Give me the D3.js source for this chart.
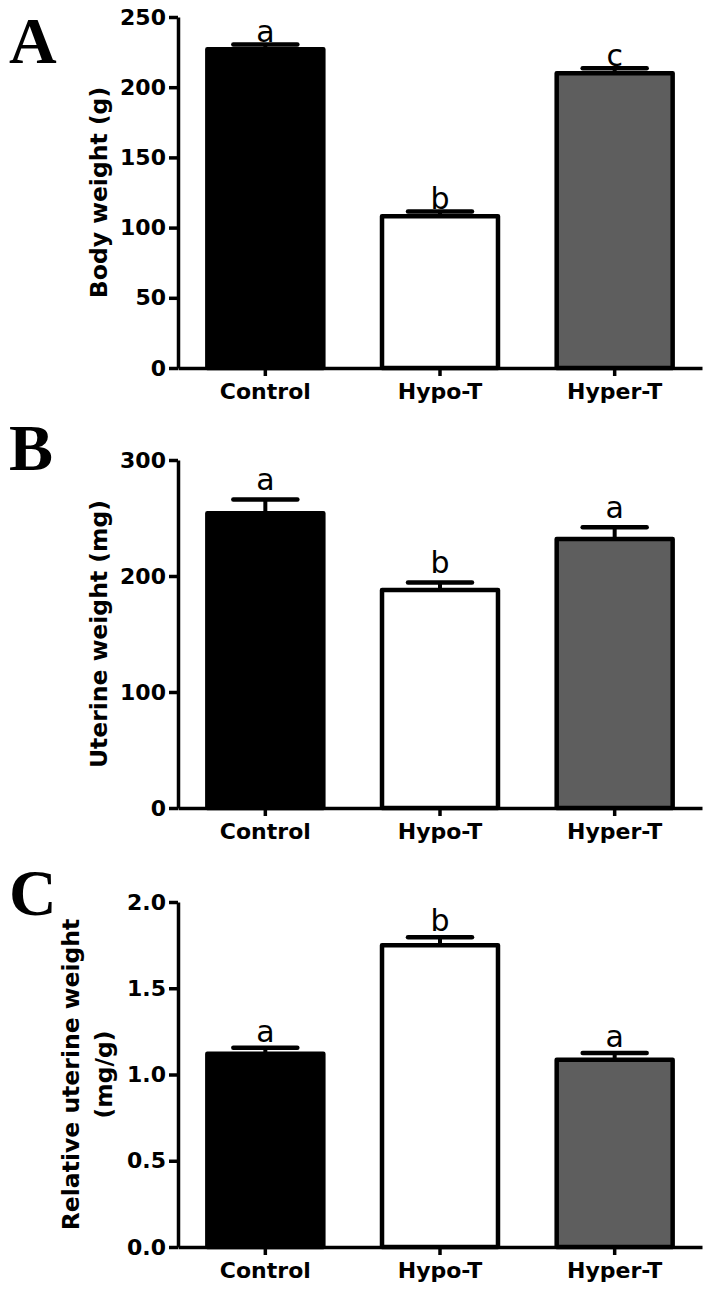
<!DOCTYPE html>
<html>
<head>
<meta charset="utf-8">
<script src="https://cdn.jsdelivr.net/npm/d3@7"></script>
<style>
  html, body { margin: 0; padding: 0; background: #ffffff; }
  svg { display: block; }
</style>
</head>
<body>
<svg id="chart" width="708" height="1299"></svg>
<script>
// ---------- data ----------
const categories = ["Control", "Hypo-T", "Hyper-T"];
const barFills = ["#000000", "#ffffff", "#5e5e5e"];

const bodyWeight = [227, 108, 210];
const bodyWeightErr = [3.5, 3.5, 3.5];
const bodyLetters = ["a", "b", "c"];
const bodyTicks = [0, 50, 100, 150, 200, 250];

const uterineWeight = [254, 188, 232];
const uterineWeightErr = [12, 6.5, 10];
const uterineLetters = ["a", "b", "a"];
const uterineTicks = [0, 100, 200, 300];

const relUterineWeight = [1.12, 1.75, 1.085];
const relUterineWeightErr = [0.035, 0.045, 0.04];
const relUterineLetters = ["a", "b", "a"];
const relUterineTicks = [0, 0.5, 1.0, 1.5, 2.0];

// ---------- drawing ----------
const svg = d3.select("#chart");
const xLeft = 178, xRight = 702;

function drawPanel(p) {
  const g = svg.append("g");
  const x = d3.scaleBand().domain(categories).range([xLeft, xRight])
    .paddingInner(0.336).paddingOuter(0.168);
  const y = d3.scaleLinear().domain([0, p.max]).range([p.bottom, p.top]);
  const data = categories.map((c, i) => ({c, v: p.values[i], e: p.errs[i], l: p.letters[i], f: barFills[i]}));

  // error bars (upper whisker only)
  const capW = 64;
  const eb = g.append("g");
  eb.selectAll("line.v").data(data).join("line")
    .attr("x1", d => x(d.c) + x.bandwidth() / 2)
    .attr("x2", d => x(d.c) + x.bandwidth() / 2)
    .attr("y1", d => y(d.v)).attr("y2", d => y(d.v + d.e))
    .attr("stroke", "#000").attr("stroke-width", 4);
  eb.selectAll("line.cap").data(data).join("line")
    .attr("x1", d => x(d.c) + x.bandwidth() / 2 - capW / 2)
    .attr("x2", d => x(d.c) + x.bandwidth() / 2 + capW / 2)
    .attr("y1", d => y(d.v + d.e)).attr("y2", d => y(d.v + d.e))
    .attr("stroke", "#000").attr("stroke-width", 4.5).attr("stroke-linecap", "round");

  // bars
  g.append("g").selectAll("rect").data(data).join("rect")
    .attr("x", d => x(d.c)).attr("width", x.bandwidth())
    .attr("y", d => y(d.v)).attr("height", d => y(0) - y(d.v))
    .attr("fill", d => d.f).attr("stroke", "#000").attr("stroke-width", 4.5)
    .attr("stroke-linejoin", "round");

  // significance letters
  g.append("g").selectAll("text").data(data).join("text")
    .attr("x", d => x(d.c) + x.bandwidth() / 2)
    .attr("y", d => y(d.v + d.e) - p.letterGap)
    .attr("text-anchor", "middle")
    .attr("font-family", "'DejaVu Sans', sans-serif")
    .attr("font-size", 30)
    .text(d => d.l);

  // y axis
  const ya = g.append("g").attr("transform", `translate(${xLeft},0)`)
    .call(d3.axisLeft(y).tickValues(p.ticks).tickFormat(p.fmt)
      .tickSize(9).tickSizeOuter(0).tickPadding(3));
  // x axis
  const xa = g.append("g").attr("transform", `translate(0,${p.bottom})`)
    .call(d3.axisBottom(x).tickSize(8).tickSizeOuter(0).tickPadding(7));

  [ya, xa].forEach(a => {
    a.select(".domain").attr("stroke", "#000").attr("stroke-width", 3.5);
    a.selectAll(".tick line").attr("stroke", "#000").attr("stroke-width", 3.5);
    a.selectAll(".tick text").attr("fill", "#000")
      .attr("font-family", "'DejaVu Sans', sans-serif")
      .attr("font-weight", "bold").attr("font-size", 22);
  });

  // y title
  const cy = (p.top + p.bottom) / 2;
  p.title.forEach((t, i) => {
    g.append("text")
      .attr("transform", `translate(${p.titleX[i]},${cy}) rotate(-90)`)
      .attr("text-anchor", "middle")
      .attr("font-family", "'DejaVu Sans', sans-serif")
      .attr("font-weight", "bold").attr("font-size", 23.5)
      .text(t);
  });

  // panel letter
  g.append("text").attr("x", 9).attr("y", p.labelY)
    .attr("font-family", "'Liberation Serif', 'Times New Roman', serif")
    .attr("font-weight", "bold").attr("font-size", 66)
    .text(p.label);
}

drawPanel({
  label: "A", labelY: 63,
  values: bodyWeight, errs: bodyWeightErr, letters: bodyLetters, ticks: bodyTicks,
  max: 250, top: 17, bottom: 368, fmt: d3.format("d"), letterGap: 2,
  title: ["Body weight (g)"], titleX: [107]
});
drawPanel({
  label: "B", labelY: 470,
  values: uterineWeight, errs: uterineWeightErr, letters: uterineLetters, ticks: uterineTicks,
  max: 300, top: 460, bottom: 808, fmt: d3.format("d"), letterGap: 9,
  title: ["Uterine weight (mg)"], titleX: [107]
});
drawPanel({
  label: "C", labelY: 915,
  values: relUterineWeight, errs: relUterineWeightErr, letters: relUterineLetters, ticks: relUterineTicks,
  max: 2.0, top: 902, bottom: 1247, fmt: d3.format(".1f"), letterGap: 6,
  title: ["Relative uterine weight", "(mg/g)"], titleX: [79, 112]
});
</script>
</body>
</html>
